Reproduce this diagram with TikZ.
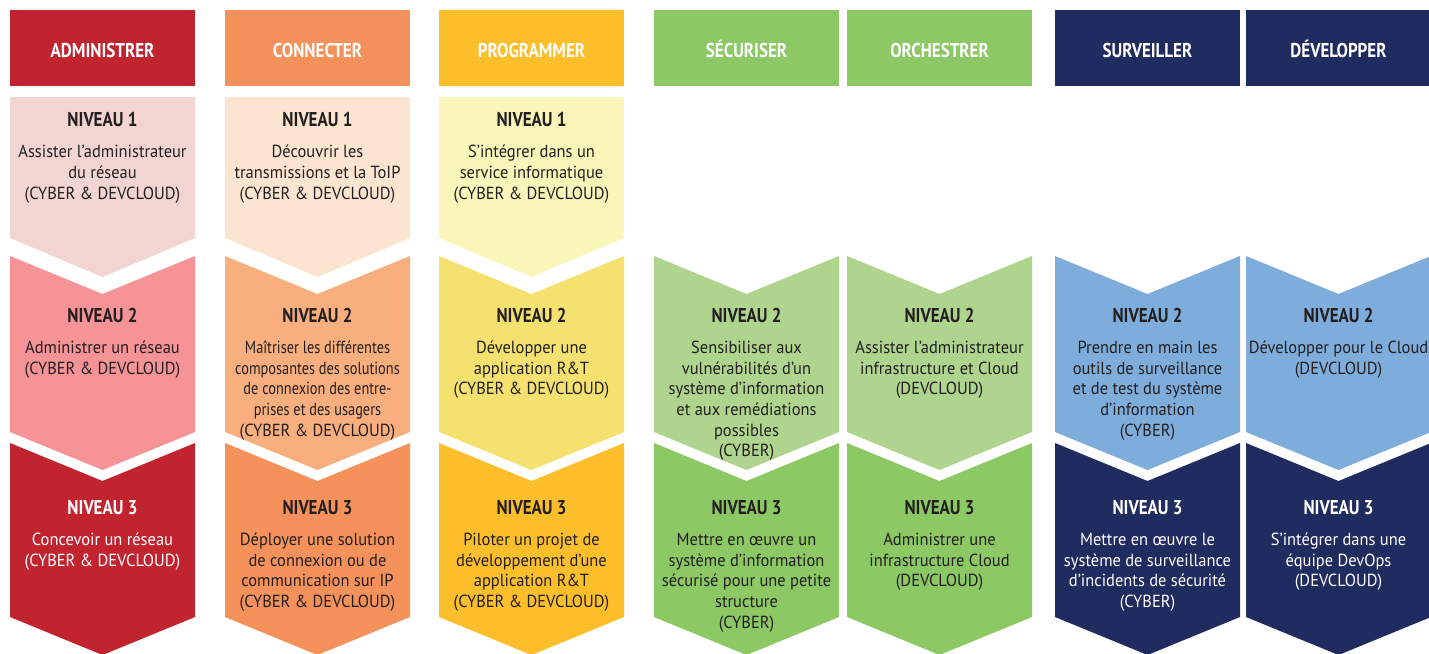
\documentclass[tikz,border=0pt]{standalone}
\usepackage{fontspec}
\setmainfont{PT Sans}
\newfontfamily\bodyf[FakeStretch=0.94]{PT Sans}
\newfontfamily\headf[FakeStretch=0.85]{PT Sans}
\newfontfamily\condf[FakeStretch=0.82]{PT Sans}
\definecolor{txtdark}{HTML}{231F20}
\definecolor{redH}{HTML}{C1232F}
\definecolor{redA}{HTML}{F2D5D0}
\definecolor{redB}{HTML}{F59396}
\definecolor{orH}{HTML}{F5915A}
\definecolor{orA}{HTML}{FBE5D0}
\definecolor{orB}{HTML}{F8AE7D}
\definecolor{yeH}{HTML}{FDBE2C}
\definecolor{yeA}{HTML}{FAF5B8}
\definecolor{yeB}{HTML}{F5E16F}
\definecolor{grH}{HTML}{8CC864}
\definecolor{grB}{HTML}{AED48E}
\definecolor{nvH}{HTML}{202B5F}
\definecolor{nvB}{HTML}{7EADDB}
\newcommand\titl[1]{{\headf\bfseries\fontsize{20}{20.7}\selectfont #1}}
% header: name, x0, colour, text
\newcommand\colhead[4]{%
  \fill[#3] (#2,10) rectangle ++(185,76);
  \node[headtxt] (#1) at (#2+92.5,57.3) {#4};}
% chevron levels: x0, colour
\newcommand\lvlone[2]{\fill[#2] (#1,97) -- ++(185,0) -- ++(0,141) -- ++(-92.5,39) -- ++(-92.5,-39) -- cycle;}
\newcommand\lvltwo[2]{\fill[#2] (#1,256) -- ++(92.5,38) -- ++(92.5,-38) -- ++(0,176) -- ++(-92.5,38) -- ++(-92.5,-38) -- cycle;}
\newcommand\lvlthree[2]{\fill[#2] (#1,443) -- ++(92.5,38) -- ++(92.5,-38) -- ++(0,174) -- ++(-92.5,38) -- ++(-92.5,-38) -- cycle;}
% text block: name, xc, title baseline, text colour, title, lines, font
\newcommand\blk[7]{%
  \node[blocktxt, text=#4] (#1) at (#2,#3) {#7\fontsize{17.5}{20.7}\selectfont
    \begin{tabular}[t]{@{}c@{}}\titl{#5}\\[10.4pt]#6\end{tabular}};}
\tikzset{
  headtxt/.style={anchor=base, inner sep=0pt, text=white, font=\headf\bfseries\fontsize{20}{24}\selectfont},
  blocktxt/.style={anchor=base, inner sep=0pt}
}
\begin{document}
\begin{tikzpicture}[x=1pt,y=-1pt]
\useasboundingbox (0,0) rectangle (1429,653);
\clip (0,0) rectangle (1429,653);
\fill[white] (0,0) rectangle (1429,653);
% ---------- ADMINISTRER
\colhead{hA}{10}{redH}{ADMINISTRER}
\lvlone{10}{redA}
\lvltwo{10}{redB}
\lvlthree{10}{redH}
\blk{a1}{102.5}{126.7}{txtdark}{NIVEAU 1}{Assister l’administrateur\\du réseau\\(CYBER \& DEVCLOUD)}{\bodyf}
\blk{a2}{102.5}{322.3}{txtdark}{NIVEAU 2}{Administrer un réseau\\(CYBER \& DEVCLOUD)}{\bodyf}
\blk{a3}{102.5}{514.3}{white}{NIVEAU 3}{Concevoir un réseau\\(CYBER \& DEVCLOUD)}{\bodyf}
% ---------- CONNECTER
\colhead{hC}{225}{orH}{CONNECTER}
\lvlone{225}{orA}
\lvltwo{225}{orB}
\lvlthree{225}{orH}
\blk{c1}{317.5}{126.7}{txtdark}{NIVEAU 1}{Découvrir les\\transmissions et la ToIP\\(CYBER \& DEVCLOUD)}{\bodyf}
\blk{c2}{317.5}{322.3}{txtdark}{NIVEAU 2}{{\condf Maîtriser les différentes}\\{\condf composantes des solutions}\\{\condf de connexion des entre-}\\{\condf prises et des usagers}\\(CYBER \& DEVCLOUD)}{\bodyf}
\blk{c3}{317.5}{514.3}{txtdark}{NIVEAU 3}{Déployer une solution\\de connexion ou de\\communication sur IP\\(CYBER \& DEVCLOUD)}{\bodyf}
% ---------- PROGRAMMER
\colhead{hP}{439}{yeH}{PROGRAMMER}
\lvlone{439}{yeA}
\lvltwo{439}{yeB}
\lvlthree{439}{yeH}
\blk{p1}{531.5}{126.7}{txtdark}{NIVEAU 1}{S’intégrer dans un\\service informatique\\(CYBER \& DEVCLOUD)}{\bodyf}
\blk{p2}{531.5}{322.3}{txtdark}{NIVEAU 2}{Développer une\\application R\&T\\(CYBER \& DEVCLOUD)}{\bodyf}
\blk{p3}{531.5}{514.3}{txtdark}{NIVEAU 3}{Piloter un projet de\\développement d’une\\application R\&T\\(CYBER \& DEVCLOUD)}{\bodyf}
% ---------- SÉCURISER
\colhead{hS}{654}{grH}{SÉCURISER}
\lvltwo{654}{grB}
\lvlthree{654}{grH}
\blk{s2}{746.5}{322.3}{txtdark}{NIVEAU 2}{Sensibiliser aux\\vulnérabilités d’un\\système d’information\\et aux remédiations\\possibles\\(CYBER)}{\bodyf}
\blk{s3}{746.5}{514.3}{txtdark}{NIVEAU 3}{Mettre en œuvre un\\système d’information\\sécurisé pour une petite\\structure\\(CYBER)}{\bodyf}
% ---------- ORCHESTRER
\colhead{hO}{847}{grH}{ORCHESTRER}
\lvltwo{847}{grB}
\lvlthree{847}{grH}
\blk{o2}{939.5}{322.3}{txtdark}{NIVEAU 2}{Assister l’administrateur\\infrastructure et Cloud\\(DEVCLOUD)}{\bodyf}
\blk{o3}{939.5}{514.3}{txtdark}{NIVEAU 3}{Administrer une\\infrastructure Cloud\\(DEVCLOUD)}{\bodyf}
% ---------- SURVEILLER
\colhead{hV}{1055}{nvH}{SURVEILLER}
\lvltwo{1055}{nvB}
\lvlthree{1055}{nvH}
\blk{v2}{1147.5}{322.3}{txtdark}{NIVEAU 2}{Prendre en main les\\outils de surveillance\\et de test du système\\d’information\\(CYBER)}{\bodyf}
\blk{v3}{1147.5}{514.3}{white}{NIVEAU 3}{Mettre en œuvre le\\système de surveillance\\d’incidents de sécurité\\(CYBER)}{\bodyf}
% ---------- DÉVELOPPER
\colhead{hD}{1246}{nvH}{DÉVELOPPER}
\lvltwo{1246}{nvB}
\lvlthree{1246}{nvH}
\blk{d2}{1338.5}{322.3}{txtdark}{NIVEAU 2}{Développer pour le Cloud\\(DEVCLOUD)}{\bodyf}
\blk{d3}{1338.5}{514.3}{white}{NIVEAU 3}{S’intégrer dans une\\équipe DevOps\\(DEVCLOUD)}{\bodyf}
\end{tikzpicture}
\end{document}
